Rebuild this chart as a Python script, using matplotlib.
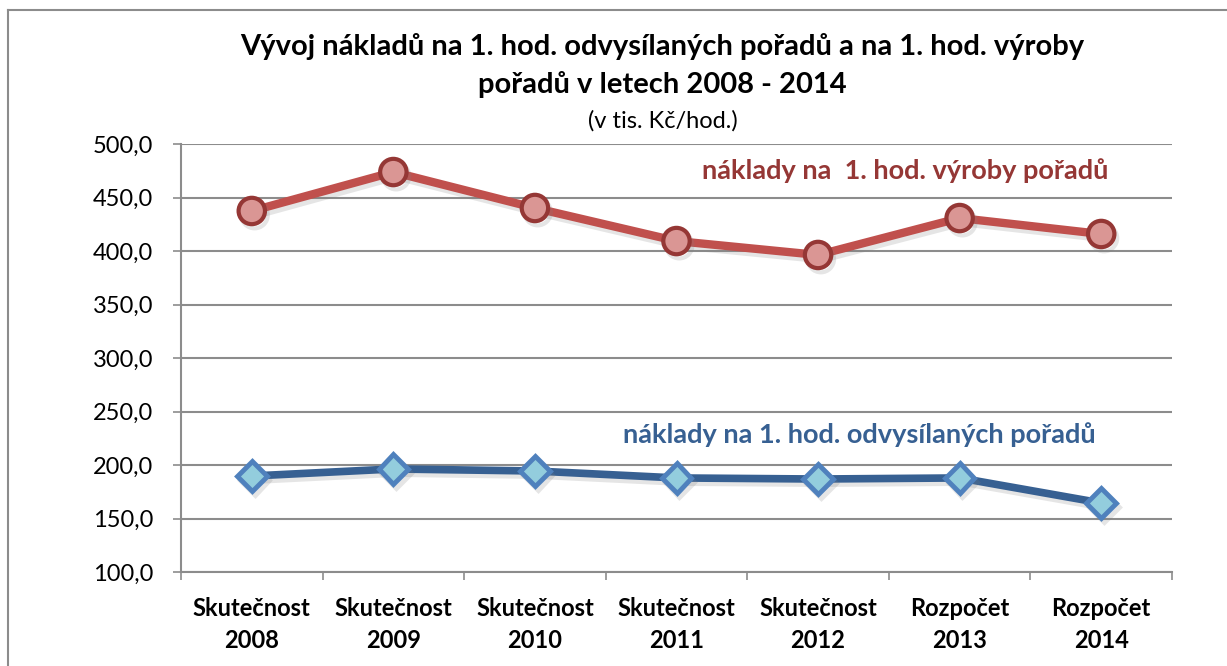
import matplotlib.pyplot as plt
import matplotlib.patheffects as pe
from matplotlib.lines import Line2D
import numpy as np

plt.rcParams['font.family'] = ['Lato', 'DejaVu Sans']

categories = ["Skutečnost\n2008", "Skutečnost\n2009", "Skutečnost\n2010",
              "Skutečnost\n2011", "Skutečnost\n2012", "Rozpočet\n2013",
              "Rozpočet\n2014"]
vyroba = [437.4, 473.8, 440.2, 409.3, 396.3, 430.8, 415.9]
odvysilane = [189.7, 196.3, 194.4, 187.9, 186.9, 187.9, 164.5]

label_vyroba = "náklady na  1. hod. výroby pořadů"
label_odvys = "náklady na 1. hod. odvysílaných pořadů"

fig = plt.figure(figsize=(12.27, 6.66), dpi=100)
ax = fig.add_axes([181 / 1227, 1 - 572 / 666, (1172 - 181) / 1227, (572 - 144) / 666])

x = np.arange(len(categories)) + 0.5
shadow = [pe.SimpleLineShadow(offset=(2, -3), alpha=0.2, shadow_color="gray"), pe.Normal()]

ax.plot(x, vyroba, color="#C0504D", lw=6, marker="o", ms=19,
        mfc="#DA9694", mec="#953735", mew=3, solid_capstyle="round",
        path_effects=shadow, zorder=3)
ax.plot(x, odvysilane, color="#376092", lw=5.5, marker="D", ms=15,
        mfc="#93CDDD", mec="#4F81BD", mew=3.5, solid_capstyle="round",
        path_effects=shadow, zorder=3)

ax.text(0.731, 0.937, label_vyroba, transform=ax.transAxes, ha="center", va="center",
        color="#953735", fontsize=19.5, fontweight="bold")
ax.text(0.684, 0.320, label_odvys, transform=ax.transAxes, ha="center", va="center",
        color="#376092", fontsize=19.5, fontweight="bold")

ax.set_xlim(0, len(categories))
ax.set_ylim(100, 500)
ax.set_yticks(np.arange(100, 501, 50))
ax.set_yticklabels([f"{v:.1f}".replace(".", ",") for v in np.arange(100, 501, 50)])
ax.set_xticks(x)
ax.set_xticklabels(categories, fontweight="bold", fontsize=17, linespacing=1.45)
ax.set_xticks(np.arange(len(categories) + 1), minor=True)
ax.tick_params(axis="x", which="major", length=0, pad=18)
ax.tick_params(axis="x", which="minor", length=6, width=1.2, color="#8C8C8C", direction="out")
ax.tick_params(axis="y", length=6, width=1.2, color="#8C8C8C", direction="out", labelsize=17, pad=14)

ax.grid(axis="y", color="#8C8C8C", lw=1.5)
ax.set_axisbelow(True)
for s in ["top", "right"]:
    ax.spines[s].set_visible(False)
ax.spines["left"].set_color("#8C8C8C")
ax.spines["bottom"].set_color("#8C8C8C")
ax.spines["left"].set_linewidth(1.5)
ax.spines["bottom"].set_linewidth(1.5)

fig.text(662 / 1227, 1 - 46 / 666,
         "Vývoj nákladů na 1. hod. odvysílaných pořadů a na 1. hod. výroby",
         ha="center", va="center", fontsize=21, fontweight="bold")
fig.text(662 / 1227, 1 - 85 / 666, "pořadů v letech 2008 - 2014",
         ha="center", va="center", fontsize=21, fontweight="bold")
fig.text(663 / 1227, 1 - 121 / 666, "(v tis. Kč/hod.)", ha="center", va="center", fontsize=17)

# chart frame
fig.add_artist(Line2D([8 / 1227, 8 / 1227], [0, 1 - 10 / 666], color="#8C8C8C", lw=1.5))
fig.add_artist(Line2D([8 / 1227, 1], [1 - 10 / 666, 1 - 10 / 666], color="#8C8C8C", lw=1.5))

fig.savefig("out.png", dpi=100)
